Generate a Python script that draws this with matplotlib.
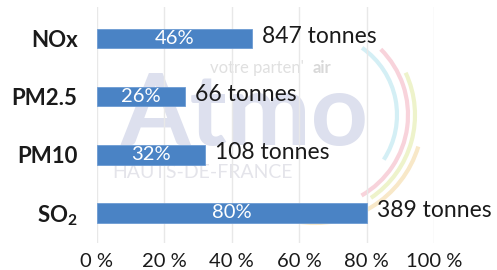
import matplotlib
matplotlib.use("Agg")
import matplotlib.pyplot as plt
from matplotlib.patches import Arc

categories = ["NOx", "PM2.5", "PM10", r"SO$_\mathbf{2}$"]
percent = [46, 26, 32, 80]
tonnes = [847, 66, 108, 389]
xticks = [0, 20, 40, 60, 80, 100]
xtick_labels = ["0 %", "20 %", "40 %", "60 %", "80 %", "100 %"]

FONT = "Lato"
plt.rcParams["font.family"] = [FONT, "DejaVu Sans"]
plt.rcParams["mathtext.fontset"] = "custom"
plt.rcParams["mathtext.rm"] = FONT
plt.rcParams["mathtext.bf"] = FONT + ":bold"

W, H = 497, 270
fig = plt.figure(figsize=(W / 100, H / 100), dpi=100)
fig.patch.set_facecolor("white")

# background watermark layer (pixel coordinates, y downwards)
bg = fig.add_axes([0, 0, 1, 1], zorder=0)
bg.set_xlim(0, W)
bg.set_ylim(H, 0)
bg.axis("off")
bg.text(121, 145, "Atmo", fontsize=72, fontweight="bold", color="#dde0ee",
        ha="left", va="baseline")
bg.text(210, 68, "votre parten'", fontsize=12, color="#e0e0e0",
        ha="left", va="center")
bg.text(313, 68, "air", fontsize=12, fontweight="bold", color="#d8d8d8",
        ha="left", va="center")
bg.text(112, 173, "HAUTS-DE-FRANCE", fontsize=14, color="#e4e4ea",
        ha="left", va="center")
for (r, t1, t2, c) in [(82, -55, 33, "#d4eff5"), (93, -45, 60, "#f8d3db"),
                       (100, -25, 56, "#eef3cb"), (108, 17, 100, "#f8e8c8")]:
    bg.add_patch(Arc((315, 115), 2 * r, 2 * r, theta1=t1, theta2=t2,
                     lw=3, color=c))

ax = fig.add_axes([97 / W, 1 - 243 / H, (434 - 97) / W, (243 - 7) / H], zorder=1)
ax.set_facecolor("none")
ypos = list(range(len(categories)))
ax.barh(ypos, percent, height=0.34, color="#4a83c5", edgecolor="#6d9bd3",
        linewidth=0.6, zorder=3)
for y, p, t in zip(ypos, percent, tonnes):
    ax.text(p / 2, y, f"{p}%", color="white", fontsize=14.5, ha="center",
            va="center", zorder=4)
    ax.text(p + 3, y - 0.04, f"{t} tonnes", color="#1a1a1a", fontsize=16.5,
            ha="left", va="center", zorder=4)

ax.set_xlim(0, 100)
ax.set_ylim(3.52, -0.54)
ax.set_xticks(xticks)
ax.set_xticklabels(xtick_labels, fontsize=14.5, color="#1a1a1a")
ax.set_yticks(ypos)
ax.set_yticklabels(categories, fontsize=16, fontweight="bold", color="#1a1a1a")
ax.tick_params(axis="both", length=0)
ax.tick_params(axis="x", pad=7.5)
ax.tick_params(axis="y", pad=14)
ax.grid(axis="x", color="#e8e8e8", linewidth=1, zorder=1)
ax.set_axisbelow(True)
for s in ax.spines.values():
    s.set_visible(False)

fig.savefig("out.png", dpi=100)
